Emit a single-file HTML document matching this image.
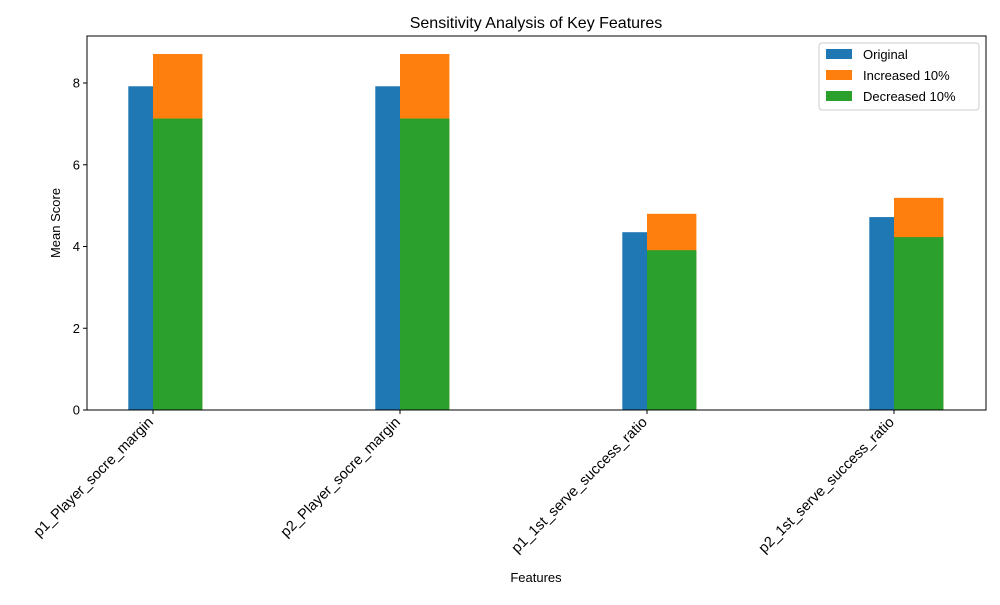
<!DOCTYPE html>
<html><head><meta charset="utf-8"><style>
body{margin:0;background:#fff;}
svg{font-family:"Liberation Sans","DejaVu Sans",sans-serif;}
</style></head><body>
<svg id="chart" width="1000" height="600" xmlns="http://www.w3.org/2000/svg">
<rect width="1000" height="600" fill="#fff"/>
<text x="536" y="28" font-size="16" text-anchor="middle">Sensitivity Analysis of Key Features</text>
<g id="bars"></g>
<g id="axes"></g>
<text x="536" y="582" font-size="13" text-anchor="middle">Features</text>
<text transform="translate(60,223) rotate(-90)" font-size="13" text-anchor="middle">Mean Score</text>
<g>
<rect x="819" y="43" width="160" height="67" fill="#fff" stroke="#ccc" rx="3"/>
<rect x="826" y="49" width="26" height="10" fill="#1f77b4"/>
<text x="863" y="59" font-size="13">Original</text>
<rect x="826" y="70" width="26" height="10" fill="#ff7f0e"/>
<text x="863" y="80" font-size="13">Increased 10%</text>
<rect x="826" y="91" width="26" height="10" fill="#2ca02c"/>
<text x="863" y="101" font-size="13">Decreased 10%</text>
</g>
</svg>
<script>
const categories=["p1_Player_socre_margin","p2_Player_socre_margin","p1_1st_serve_success_ratio","p2_1st_serve_success_ratio"];
const original=[7.92,7.92,4.35,4.72];
const increased=[8.71,8.71,4.80,5.19];
const decreased=[7.13,7.13,3.91,4.23];
const yTicks=[0,2,4,6,8];
const NS="http://www.w3.org/2000/svg";
const L=87,R=986,T=36,B=410;
const xs=i=>153+247*i;
const ys=v=>B-v*40.875;
const bw=0.2*247;
const bars=document.getElementById('bars'),axes=document.getElementById('axes');
function mk(tag,attrs,parent){const e=document.createElementNS(NS,tag);for(const k in attrs)e.setAttribute(k,attrs[k]);parent.appendChild(e);return e;}
function bar(x,v,color,name){const r=mk('rect',{x:x,y:ys(v),width:bw,height:B-ys(v),fill:color},bars);

}
categories.forEach((c,i)=>{
bar(xs(i)-bw/2,original[i],'#1f77b4','bar-original-'+i);
bar(xs(i),increased[i],'#ff7f0e','bar-increased-'+i);
bar(xs(i),decreased[i],'#2ca02c','bar-decreased-'+i);
mk('line',{x1:xs(i),x2:xs(i),y1:B,y2:B+4,stroke:'#000'},axes);
const t=mk('text',{transform:`translate(${xs(i)+1},${B+13}) rotate(-45)`,'font-size':14.6,'text-anchor':'end'},axes);
t.textContent=c;


});
yTicks.forEach(v=>{
mk('line',{x1:L-4,x2:L,y1:ys(v),y2:ys(v),stroke:'#000'},axes);
const t=mk('text',{x:L-7,y:ys(v)+4.5,'font-size':13,'text-anchor':'end'},axes);
t.textContent=v;


});
const f=mk('rect',{x:L,y:T,width:R-L,height:B-T,fill:'none',stroke:'#000','stroke-width':1},axes);


</script>
</body></html>
